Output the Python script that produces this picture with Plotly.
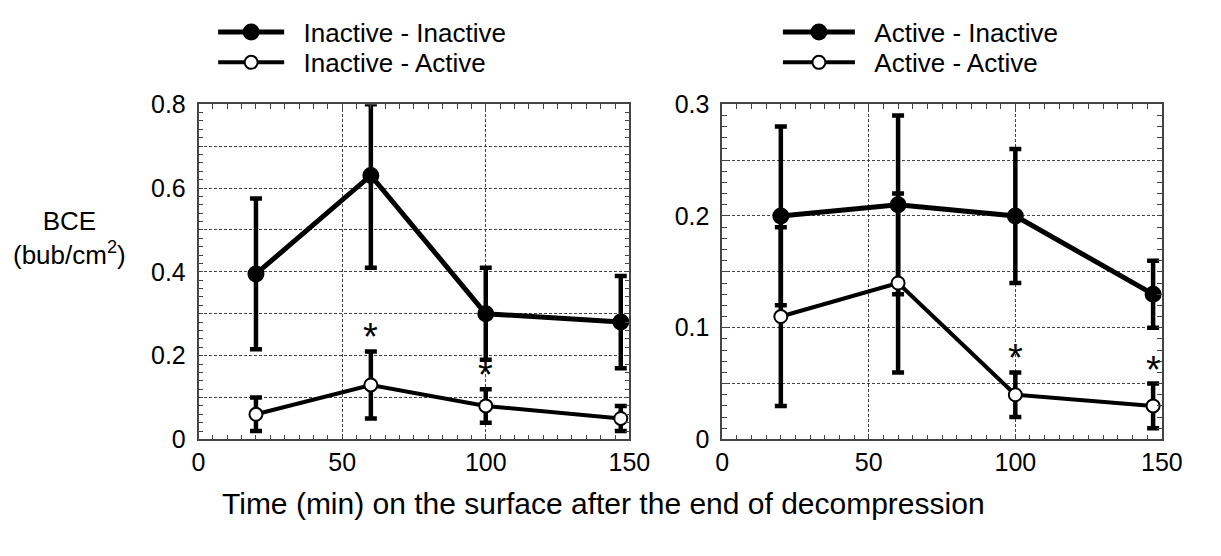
import plotly.graph_objects as go

# ---------------- data ----------------
time_points = [20, 60, 100, 147]

# Left panel
inact_inact = [0.395, 0.63, 0.30, 0.28]
inact_inact_err_plus = [0.18, 0.17, 0.11, 0.11]
inact_inact_err_minus = [0.18, 0.22, 0.11, 0.11]
inact_act = [0.06, 0.13, 0.08, 0.05]
inact_act_err = [0.04, 0.08, 0.04, 0.03]
left_star_idx = [1, 2]

# Right panel
act_inact = [0.20, 0.21, 0.20, 0.13]
act_inact_err = [0.08, 0.08, 0.06, 0.03]
act_act = [0.11, 0.14, 0.04, 0.03]
act_act_err = [0.08, 0.08, 0.02, 0.02]
right_star_idx = [2, 3]

x_ticks = [0, 50, 100, 150]
left_yticks = [0, 0.1, 0.2, 0.3, 0.4, 0.5, 0.6, 0.7, 0.8]
left_ylabels = ["0", " ", "0.2", " ", "0.4", " ", "0.6", " ", "0.8"]
right_yticks = [0, 0.05, 0.1, 0.15, 0.2, 0.25, 0.3]
right_ylabels = ["0", " ", "0.1", " ", "0.2", " ", "0.3"]

FONT = "Liberation Sans, Arial, sans-serif"
FS = 25
NB = "\u00a0\u00a0"
W, H = 1221, 556

fig = go.Figure()


def add_series(x, y, eplus, eminus, name, filled, xa, ya, legend, lw):
    fig.add_trace(go.Scatter(
        x=x, y=y, name=NB + name, mode="lines+markers",
        xaxis=xa, yaxis=ya, legend=legend,
        line=dict(color="black", width=lw),
        marker=dict(size=15 if filled else 13, symbol="circle",
                    color="black" if filled else "white",
                    line=dict(color="black", width=2)),
        error_y=dict(type="data", array=eplus, arrayminus=eminus,
                     symmetric=False, color="black", thickness=4.5, width=6),
        cliponaxis=True,
    ))


add_series(time_points, inact_inact, inact_inact_err_plus, inact_inact_err_minus,
           "Inactive - Inactive", True, "x", "y", "legend", 5)
add_series(time_points, inact_act, inact_act_err, inact_act_err,
           "Inactive - Active", False, "x", "y", "legend2", 4)
add_series(time_points, act_inact, act_inact_err, act_inact_err,
           "Active - Inactive", True, "x2", "y2", "legend3", 5)
add_series(time_points, act_act, act_act_err, act_act_err,
           "Active - Active", False, "x2", "y2", "legend4", 4)

xd1 = [196 / W, 637 / W]
xd2 = [732 / W, 1182 / W]
yd = [1 - 448 / H, 1 - 95 / H]

axis_common = dict(
    showline=True, linecolor="#444", linewidth=1.5, mirror="allticks",
    ticks="inside", ticklen=5, tickcolor="#444", tickwidth=1,
    showgrid=True, gridcolor="#444", gridwidth=1, griddash="3px,2px",
    zeroline=False, tickfont=dict(family=FONT, size=FS, color="black"),
)
minor_common = dict(ticks="inside", ticklen=5, tickcolor="#444", showgrid=False)


def legend_box(xpx, ypx, iw):
    return dict(x=xpx / W, y=1 - ypx / H, xanchor="left", yanchor="middle",
                bgcolor="rgba(0,0,0,0)", font=dict(family=FONT, size=26),
                itemwidth=iw, tracegroupgap=0)


fig.update_layout(
    width=W, height=H,
    margin=dict(l=0, r=0, t=0, b=0),
    paper_bgcolor="white", plot_bgcolor="white",
    font=dict(family=FONT, size=FS, color="black"),
    xaxis=dict(domain=xd1, range=[0, 150], tickvals=x_ticks, anchor="y",
               minor=dict(dtick=5, **minor_common), **axis_common),
    yaxis=dict(domain=yd, range=[0, 0.8], tickvals=left_yticks, ticktext=left_ylabels,
               anchor="x", ticklabelstandoff=6,
               minor=dict(dtick=0.02, **minor_common), **axis_common),
    xaxis2=dict(domain=xd2, range=[0, 150], tickvals=x_ticks, anchor="y2",
                minor=dict(dtick=5, **minor_common), **axis_common),
    yaxis2=dict(domain=yd, range=[0, 0.3], tickvals=right_yticks, ticktext=right_ylabels,
                anchor="x2", ticklabelstandoff=6,
                minor=dict(dtick=0.01, **minor_common), **axis_common),
    legend=legend_box(211, 19, 66),
    legend2=legend_box(211, 51, 66),
    legend3=legend_box(789, 19, 72),
    legend4=legend_box(789, 51, 72),
    showlegend=True,
)

# significance stars above upper error caps
for i in left_star_idx:
    fig.add_annotation(x=time_points[i], y=inact_act[i] + inact_act_err[i],
                       xref="x", yref="y", text="*", showarrow=False,
                       yanchor="middle", yshift=14,
                       font=dict(family=FONT, size=38, color="black"))
for i in right_star_idx:
    fig.add_annotation(x=time_points[i], y=act_act[i] + act_act_err[i],
                       xref="x2", yref="y2", text="*", showarrow=False,
                       yanchor="middle", yshift=14,
                       font=dict(family=FONT, size=38, color="black"))

# axis titles
fig.add_annotation(x=64 / W, y=1 - 236 / H, xref="paper", yref="paper",
                   text="BCE<br>(bub/cm<sup>2</sup>)", showarrow=False,
                   xanchor="center", yanchor="middle",
                   font=dict(family=FONT, size=26, color="black"))
fig.add_annotation(x=610 / W, y=1 - 515 / H, xref="paper", yref="paper",
                   text="Time (min) on the surface after the end of decompression",
                   showarrow=False, xanchor="center", yanchor="middle",
                   font=dict(family=FONT, size=30, color="black"))

fig.write_html("out.html",
               config={"displayModeBar": False},
               post_script="document.body.style.margin='0';document.body.style.overflow='hidden';")
